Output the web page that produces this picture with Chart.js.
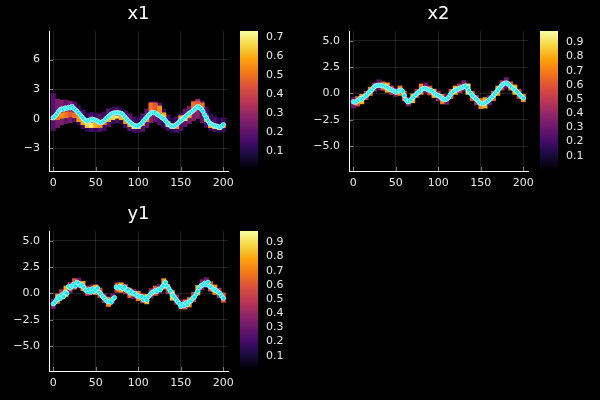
<!DOCTYPE html>
<html>
<head>
<meta charset="utf-8">
<script src="https://cdn.jsdelivr.net/npm/chart.js@4/dist/chart.umd.min.js"></script>
<style>
html,body{margin:0;padding:0;background:#000;}
#wrap{position:relative;width:600px;height:400px;overflow:hidden;background:#000;}
canvas{position:absolute;}
</style>
</head>
<body>
<div id="wrap"></div>
<script>
/* ---------- data ---------- */

// time steps of the dots (every 2nd step) and of the heat columns (every 5th)
const dotT  = Array.from({length:101}, (_, i) => i * 2);
const heatT = Array.from({length:41},  (_, i) => i * 5);

const xTicks       = [0, 50, 100, 150, 200];
const yTicksX1     = [-3, 0, 3, 6];
const yTicksWide   = [-5, -2.5, 0, 2.5, 5];
const cbTicksX1    = [0.1, 0.2, 0.3, 0.4, 0.5, 0.6, 0.7];
const cbTicksWide  = [0.1, 0.2, 0.3, 0.4, 0.5, 0.6, 0.7, 0.8, 0.9];

// x1 estimate (cyan dots)
const x1Dots = [
  0.10, 0.25, 0.45, 0.70, 0.90, 1.00, 0.95, 1.10, 1.05, 1.15,
  1.10, 1.25, 1.05, 0.90, 0.75, 0.55, 0.35, 0.15, -0.05, -0.20,
  -0.25, -0.15, -0.10, -0.05, -0.10, -0.15, -0.25, -0.35, -0.40, -0.30,
  -0.20, 0.00, 0.15, 0.30, 0.45, 0.55, 0.60, 0.60, 0.62, 0.58,
  0.55, 0.40, 0.20, 0.00, -0.20, -0.35, -0.50, -0.62, -0.70, -0.75,
  -0.72, -0.60, -0.45, -0.25, -0.05, 0.15, 0.35, 0.50, 0.65, 0.62,
  0.60, 0.45, 0.35, 0.25, 0.10, 0.00, -0.20, -0.40, -0.60, -0.72,
  -0.78, -0.75, -0.65, -0.50, -0.35, -0.20, -0.05, 0.10, 0.25, 0.40,
  0.55, 0.65, 0.80, 0.95, 1.10, 1.25, 1.15, 1.00, 0.75, 0.40,
  0.10, -0.20, -0.45, -0.55, -0.65, -0.70, -0.75, -0.80, -0.90, -0.75,
  -0.60
];

// x2 estimate
const x2Dots = [
  -0.80, -0.85, -0.80, -0.65, -0.50, -0.55, -0.40, -0.25, -0.15, 0.05,
  0.20, 0.35, 0.55, 0.70, 0.75, 0.78, 0.75, 0.72, 0.70, 0.62,
  0.55, 0.45, 0.35, 0.30, 0.20, 0.10, 0.15, 0.25, 0.30, 0.20,
  -0.20, -0.60, -0.80, -0.75, -0.60, -0.40, -0.25, -0.10, 0.05, 0.15,
  0.35, 0.45, 0.48, 0.42, 0.35, 0.30, 0.25, 0.10, -0.05, -0.15,
  -0.20, -0.30, -0.45, -0.55, -0.60, -0.55, -0.40, -0.15, 0.05, 0.20,
  0.30, 0.35, 0.45, 0.50, 0.55, 0.65, 0.70, 0.55, 0.25, 0.00,
  -0.20, -0.35, -0.50, -0.65, -0.85, -0.95, -1.00, -0.95, -0.85, -0.75,
  -0.60, -0.45, -0.30, -0.10, 0.10, 0.30, 0.50, 0.70, 0.85, 0.95,
  1.00, 0.90, 0.75, 0.60, 0.45, 0.35, 0.20, 0.05, -0.15, -0.30,
  -0.45
];

// y1 measurements
const y1Dots = [
  -1.00, -0.85, -0.60, -0.35, -0.50, -0.15, -0.30, 0.10, 0.00, 0.65,
  0.50, 0.70, 0.85, 0.70, 1.05, 0.95, 0.75, 0.80, 0.55, 0.30,
  0.20, 0.35, 0.10, 0.45, 0.20, 0.35, 0.50, 0.10, -0.05, -0.30,
  -0.45, -0.65, -0.80, -0.75, -0.85, -0.55, -0.40, 0.60, 0.50, 0.65,
  0.55, 0.45, 0.60, 0.30, 0.35, 0.05, 0.15, -0.05, 0.00, -0.20,
  -0.25, -0.35, -0.30, -0.60, -0.45, -0.65, -0.30, -0.10, 0.05, 0.15,
  0.25, 0.20, 0.40, 0.35, 0.60, 0.80, 1.05, 0.70, 0.45, 0.20,
  -0.15, -0.30, -0.55, -0.75, -0.95, -1.25, -1.05, -1.15, -0.90, -1.05,
  -0.80, -0.70, -0.45, -0.35, -0.05, 0.20, 0.55, 0.75, 0.80, 0.95,
  0.85, 1.05, 0.65, 0.60, 0.40, 0.35, 0.25, 0.10, 0.00, -0.25,
  -0.45
];

// x1 heat: wide purple band + brighter core band
const x1OuterLo  = [-1.2,-0.9,-0.6,-0.5,-0.4,-0.3,-0.6,-1.0,-1.3,-1.3,-1.3,-1.3,-1.2,-0.8,-0.5,-0.4,-0.5,-0.9,-1.2,-1.4,-1.4,-1.3,-0.9,-0.4,-0.3,-0.6,-0.9,-1.2,-1.4,-1.4,-1.2,-0.8,-0.5,-0.2,0.0,-0.4,-0.9,-1.2,-1.3,-1.4,-1.3];
const x1OuterHi  = [2.6,2.0,1.9,1.9,1.8,1.7,1.3,0.9,0.6,0.6,0.6,0.5,0.7,1.0,1.2,1.2,1.1,0.8,0.5,0.2,0.1,0.5,1.0,1.7,1.7,1.6,1.0,0.4,0.1,0.2,0.5,1.0,1.3,1.8,2.0,1.8,1.2,0.5,0.2,0.1,0.1];
const x1OuterVal = [0.18,0.24,0.26,0.20,0.25,0.18,0.12,0.15,0.10,0.16,0.12,0.18,0.14,0.20,0.12,0.16,0.10,0.15,0.20,0.14,0.12,0.18,0.20,0.26,0.22,0.18,0.12,0.16,0.10,0.15,0.18,0.20,0.24,0.26,0.28,0.20,0.15,0.12,0.16,0.10,0.14];
const x1CoreLo   = [-0.1,-0.1,0.0,0.1,0.2,0.1,-0.3,-0.6,-0.9,-0.9,-0.9,-0.9,-0.6,-0.3,-0.1,0.0,-0.1,-0.5,-0.8,-1.0,-1.0,-0.7,-0.3,0.8,0.9,0.6,0.1,-0.8,-1.0,-1.0,-0.3,-0.2,0.1,1.0,1.2,0.9,-0.3,-0.9,-1.0,-1.1,-0.9];
const x1CoreHi   = [0.3,0.5,0.6,0.7,0.7,0.6,0.3,-0.1,-0.4,-0.4,-0.4,-0.5,-0.3,0.1,0.3,0.3,0.3,-0.1,-0.5,-0.7,-0.8,-0.4,0.2,1.6,1.6,1.3,0.6,-0.3,-0.5,-0.5,0.3,0.3,0.5,1.7,1.8,1.6,0.3,-0.4,-0.6,-0.7,-0.5];
const x1CoreVal  = [0.45,0.50,0.55,0.50,0.45,0.50,0.55,0.60,0.65,0.70,0.60,0.55,0.50,0.60,0.65,0.70,0.60,0.55,0.60,0.70,0.65,0.50,0.55,0.50,0.45,0.55,0.60,0.65,0.60,0.55,0.60,0.65,0.55,0.50,0.45,0.50,0.55,0.60,0.65,0.60,0.55];

// x2 heat: narrow band
const x2HeatLo  = [-1.4,-1.2,-1.0,-0.6,-0.2,0.2,0.35,0.3,0.1,-0.1,-0.3,-0.2,-0.7,-1.2,-0.9,-0.4,-0.1,0.0,-0.15,-0.4,-0.7,-1.0,-1.05,-0.5,-0.1,0.05,0.2,-0.1,-0.7,-1.1,-1.45,-1.4,-1.1,-0.7,-0.2,0.3,0.5,0.3,-0.1,-0.5,-0.8];
const x2HeatHi  = [-0.4,-0.3,-0.1,0.2,0.6,1.0,1.3,1.1,1.0,0.7,0.5,0.7,0.2,-0.4,0.0,0.4,0.9,1.0,0.7,0.4,0.2,-0.1,-0.1,0.4,0.7,0.9,1.2,0.9,0.2,-0.2,-0.5,-0.4,-0.2,0.2,0.7,1.2,1.5,1.1,0.8,0.4,-0.1];
const x2HeatVal = [0.30,0.60,0.80,0.50,0.70,0.40,0.25,0.60,0.80,0.50,0.30,0.70,0.60,0.35,0.80,0.50,0.70,0.30,0.60,0.80,0.40,0.70,0.30,0.60,0.80,0.50,0.35,0.90,0.60,0.45,0.70,0.80,0.30,0.60,0.75,0.50,0.30,0.60,0.80,0.50,0.70];

// y1 heat
const y1HeatLo  = [-1.45,-0.95,-0.55,-0.3,0.1,0.4,0.5,0.25,-0.2,-0.1,-0.1,-0.4,-0.9,-1.25,-0.95,0.1,0.1,-0.05,-0.4,-0.5,-0.7,-0.9,-1.0,-0.45,-0.2,-0.05,0.4,-0.05,-0.65,-1.05,-1.5,-1.5,-1.3,-0.8,-0.15,0.35,0.55,0.2,-0.1,-0.4,-0.85];
const y1HeatHi  = [-0.55,-0.05,0.35,0.7,1.05,1.4,1.45,1.15,0.7,0.8,0.8,0.5,0.0,-0.35,-0.05,1.0,1.0,0.85,0.5,0.4,0.2,0.0,-0.1,0.45,0.7,0.85,1.4,0.85,0.25,-0.15,-0.6,-0.6,-0.4,0.1,0.75,1.3,1.5,1.1,0.8,0.5,0.05];
const y1HeatVal = [0.30,0.70,0.50,0.80,0.40,0.60,0.30,0.75,0.50,0.35,0.80,0.60,0.40,0.70,0.30,0.55,0.80,0.45,0.65,0.30,0.70,0.50,0.80,0.40,0.60,0.30,0.75,0.50,0.85,0.40,0.30,0.60,0.70,0.50,0.80,0.35,0.30,0.60,0.75,0.45,0.60];


/* ---------- inferno colormap ---------- */

const infernoStops = ["#000004","#160b39","#420a68","#6a176e","#932667","#bc3754",
                      "#dd513a","#f37819","#fca50a","#f6d746","#fcffa4"];

function hexRgb(h){
  return [parseInt(h.slice(1,3),16), parseInt(h.slice(3,5),16), parseInt(h.slice(5,7),16)];
}

function inferno(f){
  f = Math.max(0, Math.min(1, f));
  const p = f * 10, i = Math.min(9, Math.floor(p)), k = p - i;
  const a = hexRgb(infernoStops[i]), b = hexRgb(infernoStops[i+1]);
  const c = a.map((v, j) => Math.round(v + (b[j] - v) * k));
  return "rgb(" + c.join(",") + ")";
}


/* ---------- helpers ---------- */

const FONT   = "DejaVu Sans";
const TXT    = "#e8e8e8";
const GRID   = "rgba(255,255,255,0.12)";
const wrap   = document.getElementById("wrap");

function fmtNum(v, dec){
  const s = Math.abs(v).toFixed(dec);
  return (v < 0 ? "\u2212" : "") + s;
}

function addCanvas(left, top, w, h){
  const c = document.createElement("canvas");
  c.width = w; c.height = h;
  c.style.left = left + "px"; c.style.top = top + "px";
  c.style.width = w + "px"; c.style.height = h + "px";
  wrap.appendChild(c);
  return c;
}

// title over the plot area + small inward tick marks
const panelDeco = {
  id: "panelDeco",
  afterDraw(chart, args, opts){
    const ctx = chart.ctx, a = chart.chartArea;
    ctx.save();
    ctx.strokeStyle = "rgba(255,255,255,0.45)";
    ctx.lineWidth = 1;
    chart.scales.x.ticks.forEach(t => {
      const px = Math.round(chart.scales.x.getPixelForValue(t.value)) + 0.5;
      ctx.beginPath(); ctx.moveTo(px, a.bottom); ctx.lineTo(px, a.bottom - 4); ctx.stroke();
    });
    chart.scales.y.ticks.forEach(t => {
      const py = Math.round(chart.scales.y.getPixelForValue(t.value)) + 0.5;
      ctx.beginPath(); ctx.moveTo(a.left, py); ctx.lineTo(a.left + 4, py); ctx.stroke();
    });
    ctx.fillStyle = "#ffffff";
    ctx.font = "18px '" + FONT + "'";
    ctx.textAlign = "center";
    ctx.textBaseline = "alphabetic";
    ctx.fillText(opts.text, (a.left + a.right) / 2, 18.5);
    ctx.restore();
  }
};

function bandData(lo, hi){
  return heatT.map((t, i) => ({x: t, y: [lo[i], hi[i]]}));
}

function barSet(data, vals, cbMax, order){
  return {
    type: "bar", data: data, order: order, grouped: false,
    backgroundColor: vals.map(v => inferno(v / cbMax)),
    borderWidth: 0, barPercentage: 1, categoryPercentage: 1
  };
}

function makePanel(p){

  const main = addCanvas(p.left, p.top, 277, 200);
  const yDec = p.yTicks.some(v => v % 1 !== 0) ? 1 : 0;

  const sets = [{
    type: "scatter",
    data: dotT.map((t, i) => ({x: t, y: p.dots[i]})),
    order: 0,
    pointRadius: 2.2,
    backgroundColor: "#00eeee",
    borderColor: "rgba(215,255,255,0.95)",
    borderWidth: 0.7
  }];
  p.bands.forEach((b, k) => sets.push(barSet(bandData(b.lo, b.hi), b.val, p.cbMax, k + 1)));

  new Chart(main, {
    data: { datasets: sets },
    options: {
      responsive: false, animation: false, devicePixelRatio: 1,
      layout: { padding: { left: 0, right: 49, top: 31, bottom: 0 } },
      plugins: { legend: {display: false}, tooltip: {enabled: false}, panelDeco: { text: p.title } },
      scales: {
        x: {
          type: "linear", min: -5, max: 205.5, offset: false,
          afterBuildTicks: s => { s.ticks = xTicks.map(v => ({value: v})); },
          afterFit: s => { s.height = 29; },
          grid: { color: GRID, drawTicks: false, offset: false },
          border: { color: "#ffffff", width: 1 },
          ticks: { color: TXT, font: {family: FONT, size: 11}, padding: 6, maxRotation: 0,
                   callback: v => String(v) }
        },
        y: {
          type: "linear", min: p.yMin, max: p.yMax,
          afterBuildTicks: s => { s.ticks = p.yTicks.map(v => ({value: v})); },
          afterFit: s => { s.width = 49; },
          grid: { color: GRID, drawTicks: false },
          border: { color: "#ffffff", width: 1 },
          ticks: { color: TXT, font: {family: FONT, size: 11}, padding: 9,
                   callback: v => fmtNum(v, yDec) }
        }
      }
    },
    plugins: [panelDeco]
  });

  // colorbar
  const cb = addCanvas(p.left + 232, p.top, 68, 200);
  new Chart(cb, {
    type: "bar",
    data: {
      labels: ["cb"],
      datasets: [{
        data: [p.cbMax],
        backgroundColor: c => {
          const a = c.chart.chartArea;
          if (!a) return "#000";
          const g = c.chart.ctx.createLinearGradient(0, a.bottom, 0, a.top);
          infernoStops.forEach((col, i) => g.addColorStop(i / 10, col));
          return g;
        },
        borderWidth: 0, barPercentage: 1, categoryPercentage: 1, inflateAmount: 0
      }]
    },
    options: {
      responsive: false, animation: false, devicePixelRatio: 1,
      layout: { padding: { left: 8, right: 0, top: 31, bottom: 30 } },
      plugins: { legend: {display: false}, tooltip: {enabled: false} },
      scales: {
        x: { display: false },
        y: {
          position: "right", min: 0, max: p.cbMax,
          afterBuildTicks: s => { s.ticks = p.cbTicks.map(v => ({value: v})); },
          afterFit: s => { s.width = 42; },
          grid: { display: false, drawTicks: false },
          border: { display: false },
          ticks: { color: TXT, font: {family: FONT, size: 11}, padding: 8,
                   callback: v => v.toFixed(1) }
        }
      }
    }
  });
}


/* ---------- panels ---------- */

makePanel({
  title: "x1", left: 0, top: 0, dots: x1Dots,
  yMin: -5.3, yMax: 8.9, yTicks: yTicksX1,
  cbMax: 0.73, cbTicks: cbTicksX1,
  bands: [
    {lo: x1CoreLo,  hi: x1CoreHi,  val: x1CoreVal},
    {lo: x1OuterLo, hi: x1OuterHi, val: x1OuterVal}
  ]
});

makePanel({
  title: "x2", left: 300, top: 0, dots: x2Dots,
  yMin: -7.37, yMax: 5.92, yTicks: yTicksWide,
  cbMax: 0.98, cbTicks: cbTicksWide,
  bands: [ {lo: x2HeatLo, hi: x2HeatHi, val: x2HeatVal} ]
});

makePanel({
  title: "y1", left: 0, top: 200, dots: y1Dots,
  yMin: -7.37, yMax: 5.92, yTicks: yTicksWide,
  cbMax: 0.98, cbTicks: cbTicksWide,
  bands: [ {lo: y1HeatLo, hi: y1HeatHi, val: y1HeatVal} ]
});
</script>
</body>
</html>
